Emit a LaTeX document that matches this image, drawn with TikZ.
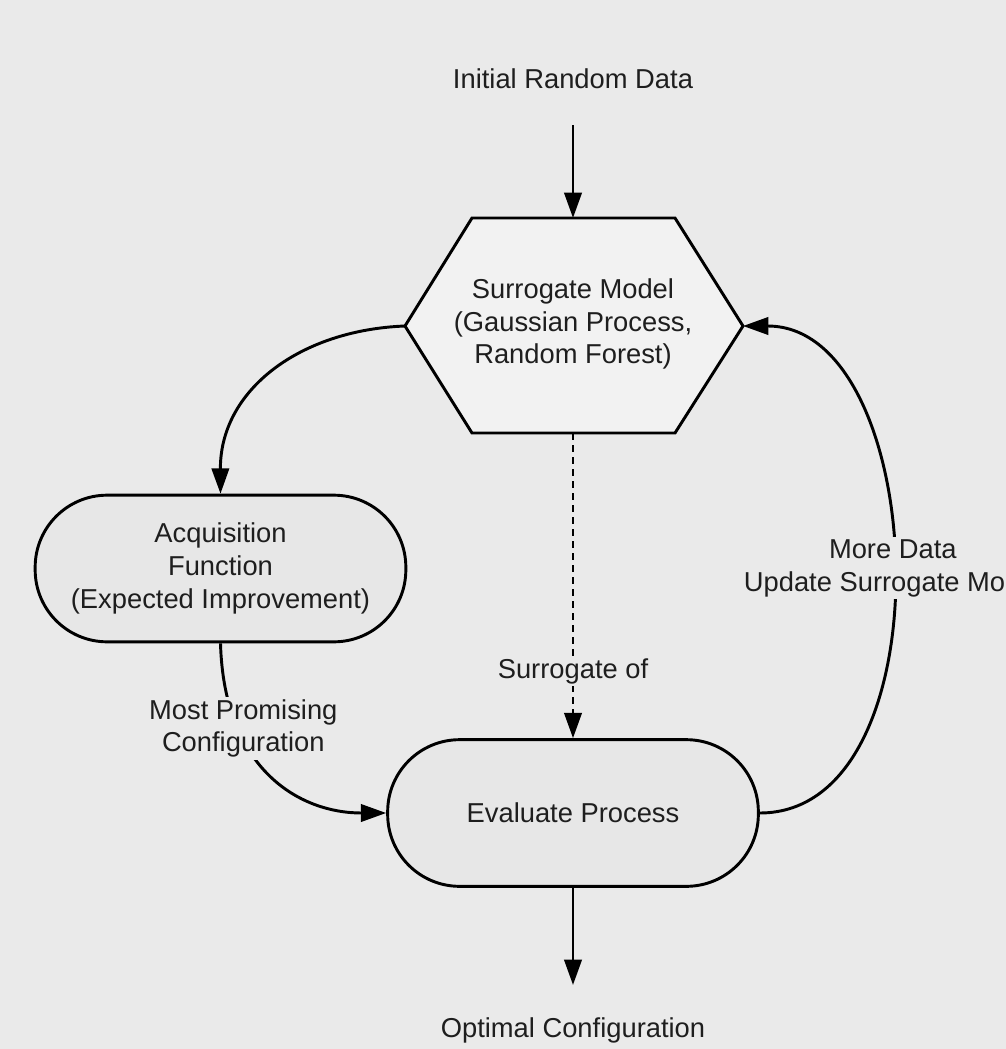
\documentclass[tikz,border=0pt]{standalone}
\usepackage{fontspec}
\setmainfont{Liberation Sans}
\usetikzlibrary{arrows.meta}
\definecolor{bg}{HTML}{EAEAEA}
\definecolor{hexfill}{HTML}{F2F2F2}
\definecolor{boxfill}{HTML}{E7E7E7}
\definecolor{ink}{HTML}{1E1E1E}
\begin{document}
\begin{tikzpicture}[x=0.75pt,y=-0.75pt,
  every node/.style={font=\fontsize{20.5}{24.6}\selectfont, text=ink, align=center},
  conn/.style={draw=black, line width=2.2pt, -{Triangle[length=19pt,width=13pt]}},
  stadium/.style={draw=black, line width=2.2pt, fill=boxfill, rounded corners=54pt,
    minimum width=278pt, minimum height=110pt, inner sep=0pt},
  lbl/.style={fill=bg, inner sep=2pt},
  plain/.style={inner sep=0pt}]
\fill[bg] (0,0) rectangle (1006,1049);
\useasboundingbox (0,0) rectangle (1006,1049);
\clip (0,0) rectangle (1006,1049);
% hexagon
\coordinate (hl) at (405,326);
\coordinate (hr) at (743,326);
\coordinate (ht) at (573,218);
\coordinate (hb) at (573,433);
\draw[line width=2.2pt, fill=hexfill, line join=miter] (472,218) -- (675,218) -- (hr) -- (675,433) -- (472,433) -- (hl) -- cycle;
\node[plain] (sm) at (573,324) {Surrogate Model\\(Gaussian Process,\\Random Forest)};
% other nodes
\node[plain] (init) at (573,79) {Initial Random Data};
\coordinate (initb) at (573,125);
\node[stadium] (acq) at (220.5,568.5) {Acquisition\\Function\\(Expected Improvement)};
\node[stadium] (ev) at (573,813) {Evaluate Process};
\coordinate (optt) at (573,985);
\node[plain] (opt) at (573,1030) {Optimal Configuration};
% connectors
\draw[conn] (initb) -- (ht);
\draw[conn] (hl) .. controls (300,330) and (220,390) .. (acq.north);
\draw[conn, dash pattern=on 5.25pt off 3.75pt] (hb) -- node[lbl, pos=0.78] (sof) {Surrogate of} (ev.north);
\draw[conn] (acq.south) .. controls (224,770) and (300,813) .. node[lbl, pos=0.27, xshift=4pt] (mpc) {Most Promising\\Configuration} (ev.west);
\draw[conn] (ev.east) .. controls (950,813) and (930,326) .. node[lbl, pos=0.502] (md) {More Data\\Update Surrogate Model} (hr);
\draw[conn] (ev.south) -- (optt);
\end{tikzpicture}
\end{document}
